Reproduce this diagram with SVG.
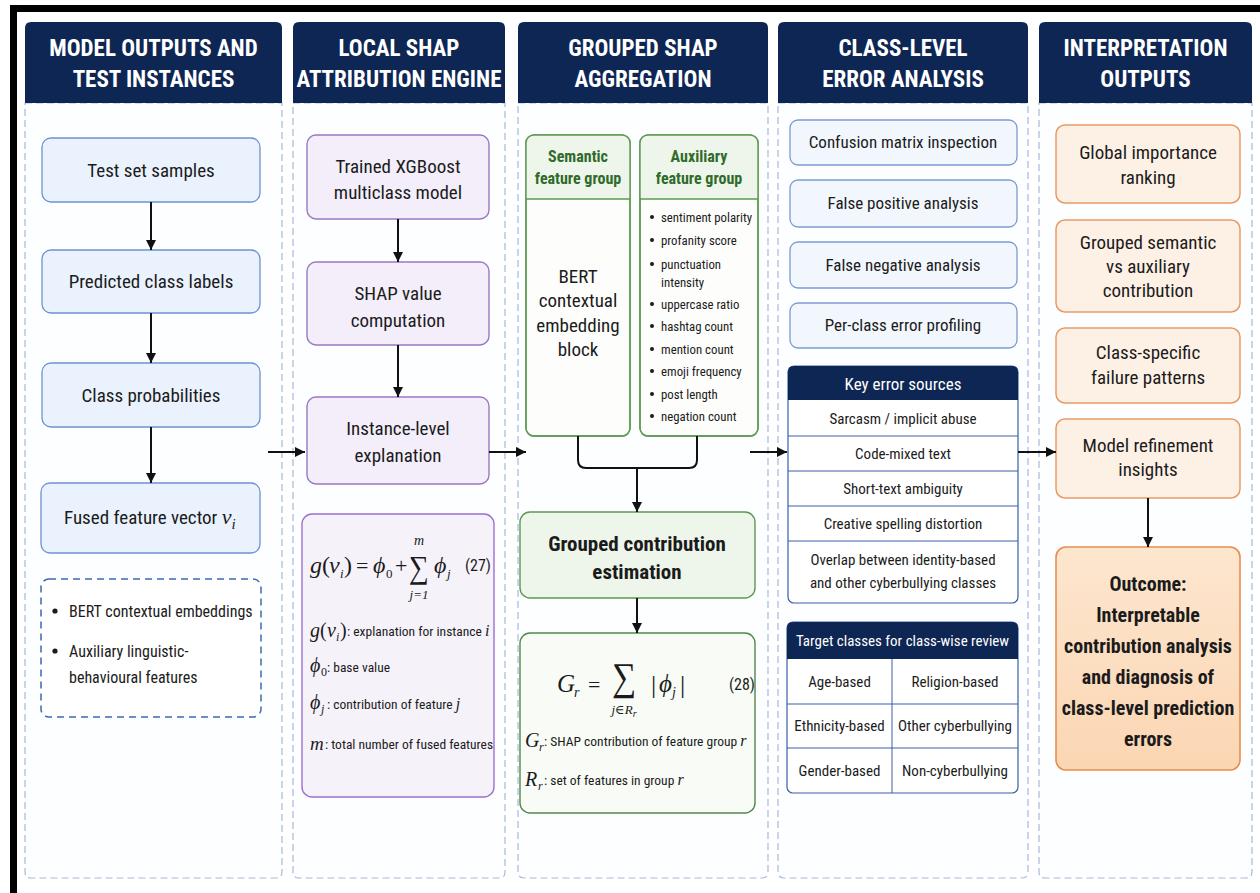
<svg xmlns="http://www.w3.org/2000/svg" width="1260" height="893" viewBox="0 0 1260 893">
<defs>
<marker id="ah" viewBox="0 0 10 10" refX="10" refY="5" markerWidth="10" markerHeight="10" markerUnits="userSpaceOnUse" orient="auto"><path d="M0,0 L10,5 L0,10 z" fill="#111"/></marker>
<linearGradient id="peach" x1="0" y1="0" x2="0" y2="1"><stop offset="0" stop-color="#fde6cf"/><stop offset="1" stop-color="#fbd6b3"/></linearGradient>
<style>
.hdr{fill:#0e2653}
.htx{font-family:"Liberation Sans Narrow","Roboto Condensed","DejaVu Sans Condensed",sans-serif;font-weight:bold;font-size:23px;fill:#fff;text-anchor:middle}
.panel{fill:#fdfeff;stroke:#a6badb;stroke-width:1.2;stroke-dasharray:7 4}
.t{font-family:"Liberation Sans Narrow","Roboto Condensed","DejaVu Sans Condensed",sans-serif;fill:#1b1b1b}
.c{text-anchor:middle}
.s18{font-size:19px}.s17{font-size:17px}.s16{font-size:16px}.s15{font-size:15px}.s14{font-size:14px}.s13{font-size:13.5px}.s12{font-size:12.8px}
.blue{fill:#eaf2fd;stroke:#6e92cf;stroke-width:1.3}
.blue2{fill:#f2f6fd;stroke:#7b9ad3;stroke-width:1.3}
.purp{fill:#f3eef9;stroke:#9a78c4;stroke-width:1.4}
.purp2{fill:#f6f2fa;stroke:#9c6fd0;stroke-width:1.4}
.grn{fill:#eef5ea;stroke:#5b9a52;stroke-width:1.4}
.grn2{fill:#f8fbf6;stroke:#4f8a48;stroke-width:1.4}
.gtx{fill:#2f6b2b;font-weight:bold}
.pch{fill:#fdf1e6;stroke:#e99a64;stroke-width:1.5}
.pch2{fill:url(#peach);stroke:#e88e4e;stroke-width:1.6}
.tbl{fill:#fff;stroke:#3b5fa8;stroke-width:1.2}
.rowline{stroke:#3b5fa8;stroke-width:1}
.m{font-family:"Liberation Serif","DejaVu Serif",serif;font-style:italic;fill:#1b1b1b}
.mr{font-family:"Liberation Serif","DejaVu Serif",serif;fill:#1b1b1b}
.conn{stroke:#111;stroke-width:2;fill:none}
.dash{fill:#fff;stroke:#3f68b0;stroke-width:1.5;stroke-dasharray:7 5}
</style>
</defs>
<rect width="1260" height="893" fill="#fff"/>
<path d="M10,893 V5 H1260 V12 H17 V893 z" fill="#000"/>

<!-- column panels -->
<g id="col1">
<path class="panel" d="M25,103 H282 V872 Q282,878 276,878 H31 Q25,878 25,872 z"/>
<path class="hdr" d="M25,103 V28 Q25,22 31,22 H276 Q282,22 282,28 V103 z"/>
<text class="htx" x="153.5" y="56">MODEL OUTPUTS AND</text>
<text class="htx" x="153.5" y="87">TEST INSTANCES</text>
</g>
<g id="col2">
<path class="panel" d="M293,103 H505 V872 Q505,878 499,878 H299 Q293,878 293,872 z"/>
<path class="hdr" d="M293,103 V28 Q293,22 299,22 H499 Q505,22 505,28 V103 z"/>
<text class="htx" x="399" y="56">LOCAL SHAP</text>
<text class="htx" x="399" y="87">ATTRIBUTION ENGINE</text>
</g>
<g id="col3">
<path class="panel" d="M518,103 H768 V872 Q768,878 762,878 H524 Q518,878 518,872 z"/>
<path class="hdr" d="M518,103 V28 Q518,22 524,22 H762 Q768,22 768,28 V103 z"/>
<text class="htx" x="643" y="56">GROUPED SHAP</text>
<text class="htx" x="643" y="87">AGGREGATION</text>
</g>
<g id="col4">
<path class="panel" d="M778,103 H1028 V872 Q1028,878 1022,878 H784 Q778,878 778,872 z"/>
<path class="hdr" d="M778,103 V28 Q778,22 784,22 H1022 Q1028,22 1028,28 V103 z"/>
<text class="htx" x="903" y="56">CLASS-LEVEL</text>
<text class="htx" x="903" y="87">ERROR ANALYSIS</text>
</g>
<g id="col5">
<path class="panel" d="M1039,103 H1252 V872 Q1252,878 1246,878 H1045 Q1039,878 1039,872 z"/>
<path class="hdr" d="M1039,103 V28 Q1039,22 1045,22 H1246 Q1252,22 1252,28 V103 z"/>
<text class="htx" x="1145.5" y="56">INTERPRETATION</text>
<text class="htx" x="1145.5" y="87">OUTPUTS</text>
</g>

<!-- column 1 nodes -->
<g id="n-test"><rect class="blue" x="42" y="138" width="218" height="64" rx="9"/><text class="t c s18" x="151" y="177">Test set samples</text></g>
<g id="n-pred"><rect class="blue" x="42" y="250" width="218" height="63" rx="9"/><text class="t c s18" x="151" y="288">Predicted class labels</text></g>
<g id="n-prob"><rect class="blue" x="42" y="363" width="218" height="64" rx="9"/><text class="t c s18" x="151" y="402">Class probabilities</text></g>
<g id="n-fused"><rect class="blue" x="41" y="483" width="219" height="70" rx="9"/><text class="t s18" x="64" y="524">Fused feature vector <tspan class="m" font-size="22">v</tspan><tspan class="m" font-size="15" dy="5">i</tspan></text></g>
<g id="n-featlist"><rect class="dash" x="41" y="579" width="220" height="138" rx="8"/>
<circle cx="55" cy="611" r="2.6" fill="#1b1b1b"/><text class="t s16" x="69" y="617">BERT contextual embeddings</text>
<circle cx="55" cy="651" r="2.6" fill="#1b1b1b"/><text class="t s16" x="69" y="657">Auxiliary linguistic-</text>
<text class="t s16" x="69" y="683">behavioural features</text></g>

<!-- column 2 nodes -->
<g id="n-xgb"><rect class="purp" x="307" y="135" width="182" height="84" rx="9"/><text class="t c s18" x="398" y="173">Trained XGBoost</text><text class="t c s18" x="398" y="199">multiclass model</text></g>
<g id="n-shapcomp"><rect class="purp" x="307" y="262" width="182" height="83" rx="9"/><text class="t c s18" x="398" y="300">SHAP value</text><text class="t c s18" x="398" y="327">computation</text></g>
<g id="n-inst"><rect class="purp" x="307" y="397" width="182" height="87" rx="9"/><text class="t c s18" x="398" y="435">Instance-level</text><text class="t c s18" x="398" y="462">explanation</text></g>
<g id="n-eq27"><rect class="purp2" x="302" y="514" width="192" height="283" rx="10"/>
<text class="m" font-size="24" x="310" y="573">g</text><text class="mr" font-size="24" x="322" y="573">(</text><text class="m" font-size="24" x="329" y="573">v</text><text class="m" font-size="13" x="340" y="578">i</text><text class="mr" font-size="24" x="344" y="573">)</text>
<text class="mr" font-size="22" x="356" y="573">=</text>
<text class="m" font-size="24" x="373" y="573">ϕ</text><text class="mr" font-size="13" x="386" y="578">0</text>
<text class="mr" font-size="22" x="395" y="573">+</text>
<text class="mr" font-size="28" transform="translate(409,578) scale(1,1.15)">∑</text>
<text class="m" font-size="14" x="419" y="545" text-anchor="middle">m</text>
<text class="m" font-size="13" x="419" y="599" text-anchor="middle">j<tspan class="mr">=1</tspan></text>
<text class="m" font-size="24" x="434" y="573">ϕ</text><text class="m" font-size="13" x="447" y="578">j</text>
<text class="t s16" x="465" y="571">(27)</text>
<text class="m" font-size="20" x="310" y="637">g</text><text class="mr" font-size="20" x="320" y="637">(</text><text class="m" font-size="20" x="327" y="637">v</text><text class="m" font-size="12" x="336" y="641">i</text><text class="mr" font-size="20" x="340" y="637">)</text><text class="t s13" x="347" y="636">: explanation for instance <tspan class="m" font-size="16">i</tspan></text>
<text class="m" font-size="20" x="310" y="672">ϕ</text><text class="mr" font-size="12" x="321" y="676">0</text><text class="t s13" x="327" y="672">: base value</text>
<text class="m" font-size="20" x="310" y="709">ϕ</text><text class="m" font-size="12" x="321" y="713">j</text><text class="t s13" x="327" y="709">:  contribution of feature <tspan class="m" font-size="16">j</tspan></text>
<text class="m" font-size="19" x="310" y="750">m</text><text class="t s13" x="325" y="749">:  total number of fused features</text>
</g>

<!-- column 3 nodes -->
<g id="n-semantic"><rect x="526" y="135" width="104" height="301" rx="8" fill="#fdfefc" stroke="#5b9a52" stroke-width="1.4"/>
<path d="M526,199 V143 Q526,135 534,135 H622 Q630,135 630,143 V199 z" fill="#eef5ea"/>
<line x1="526" y1="199" x2="630" y2="199" stroke="#5b9a52" stroke-width="1.4"/>
<rect x="526" y="135" width="104" height="301" rx="8" fill="none" stroke="#5b9a52" stroke-width="1.4"/>
<text class="t c s16 gtx" x="578" y="162">Semantic</text><text class="t c s16 gtx" x="578" y="184">feature group</text>
<text class="t c s18" x="578" y="283">BERT</text><text class="t c s18" x="578" y="307">contextual</text><text class="t c s18" x="578" y="332">embedding</text><text class="t c s18" x="578" y="356">block</text></g>
<g id="n-aux"><rect x="640" y="135" width="118" height="301" rx="8" fill="#fdfefc" stroke="#5b9a52" stroke-width="1.4"/>
<path d="M640,199 V143 Q640,135 648,135 H750 Q758,135 758,143 V199 z" fill="#eef5ea"/>
<line x1="640" y1="199" x2="758" y2="199" stroke="#5b9a52" stroke-width="1.4"/>
<rect x="640" y="135" width="118" height="301" rx="8" fill="none" stroke="#5b9a52" stroke-width="1.4"/>
<text class="t c s16 gtx" x="699" y="162">Auxiliary</text><text class="t c s16 gtx" x="699" y="184">feature group</text>
<g fill="#1b1b1b"><circle cx="652" cy="217" r="2"/><circle cx="652" cy="240" r="2"/><circle cx="652" cy="264" r="2"/><circle cx="652" cy="304" r="2"/><circle cx="652" cy="326" r="2"/><circle cx="652" cy="349" r="2"/><circle cx="652" cy="371" r="2"/><circle cx="652" cy="394" r="2"/><circle cx="652" cy="416" r="2"/></g>
<text class="t s12" x="661" y="222">sentiment polarity</text>
<text class="t s12" x="661" y="245">profanity score</text>
<text class="t s12" x="661" y="269">punctuation</text>
<text class="t s12" x="661" y="287">intensity</text>
<text class="t s12" x="661" y="309">uppercase ratio</text>
<text class="t s12" x="661" y="331">hashtag count</text>
<text class="t s12" x="661" y="354">mention count</text>
<text class="t s12" x="661" y="376">emoji frequency</text>
<text class="t s12" x="661" y="399">post length</text>
<text class="t s12" x="661" y="421">negation count</text></g>
<g id="n-grouped"><rect class="grn" x="520" y="512" width="235" height="86" rx="10"/><text class="t c" font-size="21" font-weight="bold" fill="#222" x="637" y="551">Grouped contribution</text><text class="t c" font-size="21" font-weight="bold" fill="#222" x="637" y="579">estimation</text></g>
<g id="n-eq28"><rect class="grn2" x="520" y="633" width="235" height="180" rx="10"/>
<text class="m" font-size="25" x="557" y="692">G</text><text class="m" font-size="14" x="574" y="697">r</text>
<text class="mr" font-size="22" x="588" y="692">=</text>
<text class="mr" font-size="34" transform="translate(612,690) scale(1,1.15)">∑</text>
<text class="m" font-size="13" x="624" y="714" text-anchor="middle">j<tspan class="mr">∈</tspan>R<tspan font-size="10" dy="3">r</tspan></text>
<text class="mr" font-size="26" x="651" y="693">|</text><text class="m" font-size="25" x="659" y="692">ϕ</text><text class="m" font-size="14" x="672" y="697">j</text><text class="mr" font-size="26" x="680" y="693">|</text>
<text class="t s16" x="729" y="690">(28)</text>
<text class="m" font-size="20" x="525" y="747">G</text><text class="m" font-size="12" x="539" y="751">r</text><text class="t s13" x="544" y="746">: SHAP contribution of feature group <tspan class="m" font-size="16">r</tspan></text>
<text class="m" font-size="20" x="525" y="786">R</text><text class="m" font-size="12" x="538" y="790">r</text><text class="t s13" x="544" y="785">:  set of features in group <tspan class="m" font-size="16">r</tspan></text>
</g>

<!-- column 4 nodes -->
<g id="n-confusion"><rect class="blue2" x="790" y="120" width="227" height="45" rx="8"/><text class="t c s17" x="903" y="148">Confusion matrix inspection</text></g>
<g id="n-fp"><rect class="blue2" x="790" y="180" width="227" height="47" rx="8"/><text class="t c s17" x="903" y="209">False positive analysis</text></g>
<g id="n-fn"><rect class="blue2" x="790" y="242" width="227" height="46" rx="8"/><text class="t c s17" x="903" y="271">False negative analysis</text></g>
<g id="n-perclass"><rect class="blue2" x="790" y="303" width="227" height="45" rx="8"/><text class="t c s17" x="903" y="331">Per-class error profiling</text></g>
<g id="n-keyerr"><rect class="tbl" x="788" y="366" width="230" height="237" rx="6"/>
<path d="M788,400 V372 Q788,366 794,366 H1012 Q1018,366 1018,372 V400 z" fill="#0e2653"/>
<text class="t c s17" x="903" y="390" style="fill:#fff">Key error sources</text>
<line class="rowline" x1="788" y1="436" x2="1018" y2="436"/><line class="rowline" x1="788" y1="471" x2="1018" y2="471"/><line class="rowline" x1="788" y1="506" x2="1018" y2="506"/><line class="rowline" x1="788" y1="541" x2="1018" y2="541"/>
<text class="t c s15" x="903" y="424">Sarcasm / implicit abuse</text>
<text class="t c s15" x="903" y="459">Code-mixed text</text>
<text class="t c s15" x="903" y="494">Short-text ambiguity</text>
<text class="t c s15" x="903" y="529">Creative spelling distortion</text>
<text class="t c s15" x="903" y="565">Overlap between identity-based</text>
<text class="t c s15" x="903" y="588">and other cyberbullying classes</text></g>
<g id="n-targets"><rect class="tbl" x="787" y="622" width="231" height="171" rx="6"/>
<path d="M787,659 V628 Q787,622 793,622 H1012 Q1018,622 1018,628 V659 z" fill="#0e2653"/>
<text class="t c s15" x="902.5" y="646" style="fill:#fff">Target classes for class-wise review</text>
<line class="rowline" x1="787" y1="704" x2="1018" y2="704"/><line class="rowline" x1="787" y1="748" x2="1018" y2="748"/><line class="rowline" x1="892" y1="659" x2="892" y2="793"/>
<text class="t c s15" x="839.5" y="687">Age-based</text><text class="t c s15" x="955" y="687">Religion-based</text>
<text class="t c s15" x="839.5" y="731">Ethnicity-based</text><text class="t c s15" x="955" y="731">Other cyberbullying</text>
<text class="t c s15" x="839.5" y="776">Gender-based</text><text class="t c s15" x="955" y="776">Non-cyberbullying</text></g>

<!-- column 5 nodes -->
<g id="n-global"><rect class="pch" x="1056" y="125" width="184" height="78" rx="9"/><text class="t c s18" x="1148" y="159">Global importance</text><text class="t c s18" x="1148" y="184">ranking</text></g>
<g id="n-groupedsem"><rect class="pch" x="1056" y="220" width="184" height="92" rx="9"/><text class="t c s18" x="1148" y="249">Grouped semantic</text><text class="t c s18" x="1148" y="273">vs auxiliary</text><text class="t c s18" x="1148" y="297">contribution</text></g>
<g id="n-classspec"><rect class="pch" x="1056" y="328" width="184" height="75" rx="9"/><text class="t c s18" x="1148" y="359">Class-specific</text><text class="t c s18" x="1148" y="384">failure patterns</text></g>
<g id="n-refine"><rect class="pch" x="1056" y="419" width="184" height="79" rx="9"/><text class="t c s18" x="1148" y="452">Model refinement</text><text class="t c s18" x="1148" y="476">insights</text></g>
<g id="n-outcome"><rect class="pch2" x="1056" y="547" width="184" height="223" rx="10"/>
<g class="t c" font-size="20" font-weight="bold">
<text x="1148" y="591">Outcome:</text><text x="1148" y="622">Interpretable</text><text x="1148" y="653">contribution analysis</text><text x="1148" y="684">and diagnosis of</text><text x="1148" y="715">class-level prediction</text><text x="1148" y="746">errors</text></g></g>

<!-- connectors -->
<g id="connectors">
<line class="conn" x1="151" y1="202" x2="151" y2="250" marker-end="url(#ah)"/>
<line class="conn" x1="151" y1="313" x2="151" y2="363" marker-end="url(#ah)"/>
<line class="conn" x1="151" y1="427" x2="151" y2="483" marker-end="url(#ah)"/>
<line class="conn" x1="398" y1="219" x2="398" y2="262" marker-end="url(#ah)"/>
<line class="conn" x1="398" y1="345" x2="398" y2="397" marker-end="url(#ah)"/>
<line class="conn" x1="268" y1="452" x2="305" y2="452" marker-end="url(#ah)"/>
<line class="conn" x1="489" y1="452" x2="526" y2="452" marker-end="url(#ah)"/>
<line class="conn" x1="750" y1="452" x2="787" y2="452" marker-end="url(#ah)"/>
<line class="conn" x1="1018" y1="452" x2="1056" y2="452" marker-end="url(#ah)"/>
<path class="conn" d="M578,436 V460 Q578,468 586,468 H689 Q697,468 697,460 V436"/>
<line class="conn" x1="637" y1="468" x2="637" y2="512" marker-end="url(#ah)"/>
<line class="conn" x1="637" y1="598" x2="637" y2="633" marker-end="url(#ah)"/>
<line class="conn" x1="1148" y1="498" x2="1148" y2="547" marker-end="url(#ah)"/>
</g>
</svg>
